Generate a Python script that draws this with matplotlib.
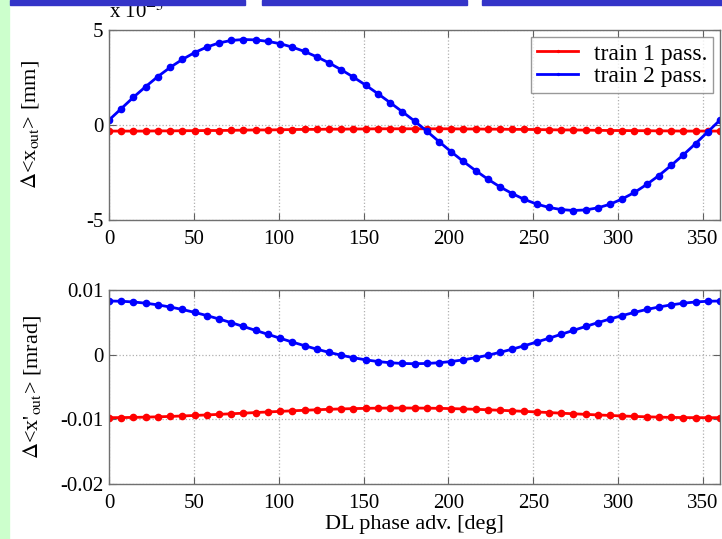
import matplotlib
matplotlib.use("Agg")
from matplotlib import pyplot as plt
from matplotlib.patches import Rectangle
import numpy as np

plt.rcParams['font.family'] = ['Liberation Serif', 'DejaVu Serif']
plt.rcParams['mathtext.fontset'] = 'stix'
plt.rcParams['axes.unicode_minus'] = False

# DL phase advance [deg]
phase = [0, 7.2, 14.4, 21.6, 28.8, 36, 43.2, 50.4, 57.6, 64.8,
         72, 79.2, 86.4, 93.6, 100.8, 108, 115.2, 122.4, 129.6, 136.8,
         144, 151.2, 158.4, 165.6, 172.8, 180, 187.2, 194.4, 201.6, 208.8,
         216, 223.2, 230.4, 237.6, 244.8, 252, 259.2, 266.4, 273.6, 280.8,
         288, 295.2, 302.4, 309.6, 316.8, 324, 331.2, 338.4, 345.6, 352.8, 360]

# top panel, units of 1e-3 mm
xTrain1 = [-0.32, -0.32, -0.32, -0.32, -0.31, -0.31, -0.30, -0.30, -0.29, -0.29,
           -0.28, -0.27, -0.26, -0.26, -0.25, -0.24, -0.23, -0.23, -0.22, -0.22,
           -0.21, -0.21, -0.20, -0.20, -0.20, -0.20, -0.20, -0.20, -0.20, -0.21,
           -0.21, -0.22, -0.22, -0.23, -0.23, -0.24, -0.25, -0.26, -0.26, -0.27,
           -0.28, -0.29, -0.29, -0.30, -0.30, -0.31, -0.31, -0.32, -0.32, -0.32, -0.32]
xTrain2 = [0.26, 0.86, 1.46, 2.02, 2.55, 3.03, 3.45, 3.81, 4.10, 4.32,
           4.45, 4.50, 4.48, 4.40, 4.28, 4.10, 3.87, 3.59, 3.27, 2.91,
           2.52, 2.10, 1.65, 1.18, 0.70, 0.21, -0.32, -0.87, -1.41, -1.92,
           -2.40, -2.85, -3.26, -3.61, -3.92, -4.16, -4.34, -4.45, -4.50, -4.47,
           -4.36, -4.17, -3.89, -3.55, -3.13, -2.66, -2.13, -1.57, -0.98, -0.36, 0.26]

# bottom panel, units of 1e-3 mrad
xpTrain1 = [-9.74, -9.73, -9.70, -9.66, -9.61, -9.55, -9.48, -9.40, -9.32, -9.23,
            -9.14, -9.05, -8.95, -8.86, -8.77, -8.68, -8.60, -8.52, -8.45, -8.39,
            -8.34, -8.30, -8.27, -8.26, -8.25, -8.26, -8.27, -8.30, -8.34, -8.39,
            -8.45, -8.52, -8.60, -8.68, -8.77, -8.86, -8.95, -9.05, -9.14, -9.23,
            -9.32, -9.40, -9.48, -9.55, -9.61, -9.66, -9.70, -9.73, -9.74, -9.75, -9.74]
xpTrain2 = [8.30, 8.26, 8.15, 7.96, 7.70, 7.37, 6.99, 6.54, 6.05, 5.52,
            4.95, 4.36, 3.75, 3.15, 2.54, 1.95, 1.39, 0.85, 0.36, -0.09,
            -0.47, -0.80, -1.06, -1.25, -1.36, -1.40, -1.36, -1.25, -1.06, -0.80,
            -0.47, -0.09, 0.36, 0.85, 1.39, 1.95, 2.54, 3.15, 3.75, 4.36,
            4.95, 5.52, 6.05, 6.54, 6.99, 7.37, 7.70, 7.96, 8.15, 8.26, 8.30]

xticks = [0, 50, 100, 150, 200, 250, 300, 350]

fig = plt.figure(figsize=(7.22, 5.39), dpi=100)

# slide decorations
fig.patches.append(Rectangle((0, 0), 9 / 722, 1, transform=fig.transFigure,
                             color='#ccffcc', zorder=0))
for x0, x1 in [(10, 245), (262, 467), (482, 722)]:
    fig.patches.append(Rectangle((x0 / 722, 1 - 5 / 539), (x1 - x0) / 722, 5 / 539,
                                 transform=fig.transFigure, color='#3434c8', zorder=0))

ax1 = fig.add_axes([109 / 722, 1 - 220 / 539, 611 / 722, 190 / 539])
ax2 = fig.add_axes([109 / 722, 1 - 484 / 539, 611 / 722, 194 / 539])

def styleAxes(ax):
    ax.set_xlim(0, 360)
    ax.set_xticks(xticks)
    ax.grid(True, linestyle=':', color='#b0b0b0', linewidth=0.9)
    ax.tick_params(direction='in', top=True, right=True, labelsize=15,
                   length=5, color='#606060')
    ax.tick_params(axis='x', pad=7)
    ax.tick_params(axis='y', pad=4)
    for s in ax.spines.values():
        s.set_color('#707070')
        s.set_linewidth(1.0)

ax1.plot(phase, xTrain1, color='#ff0000', marker='.', markersize=9, linewidth=2,
         label='train 1 pass.')
ax1.plot(phase, xTrain2, color='#0000ff', marker='.', markersize=9, linewidth=2,
         label='train 2 pass.')
styleAxes(ax1)
ax1.set_ylim(-5, 5)
ax1.set_yticks([-5, 0, 5])
ax1.set_ylabel(r"$\Delta$<x$_{\rm out}$> [mm]", fontsize=16)
ax1.yaxis.set_label_coords(-0.111, 0.5)
ax1.text(0.0, 1.04, r"x 10$^{-3}$", transform=ax1.transAxes, fontsize=15,
         ha='left', va='bottom')
leg = ax1.legend(loc='upper right', fontsize=17, frameon=True, fancybox=False,
                 edgecolor='#808080', handlelength=1.75, handletextpad=0.65,
                 borderpad=0.25, labelspacing=0.05, borderaxespad=0.3,
                 markerscale=0.3)
leg.get_frame().set_linewidth(1.0)

ax2.plot(phase, np.array(xpTrain1) * 1e-3, color='#ff0000', marker='.', markersize=9,
         linewidth=2)
ax2.plot(phase, np.array(xpTrain2) * 1e-3, color='#0000ff', marker='.', markersize=9,
         linewidth=2)
styleAxes(ax2)
ax2.set_ylim(-0.02, 0.01)
ax2.set_yticks([-0.02, -0.01, 0, 0.01])
ax2.set_yticklabels(['-0.02', '-0.01', '0', '0.01'])
ax2.set_ylabel(r"$\Delta$<x'$_{\rm out}$> [mrad]", fontsize=16)
ax2.yaxis.set_label_coords(-0.108, 0.5)
ax2.set_xlabel('DL phase adv. [deg]', fontsize=16, labelpad=2)

fig.savefig('out.png', dpi=100)
